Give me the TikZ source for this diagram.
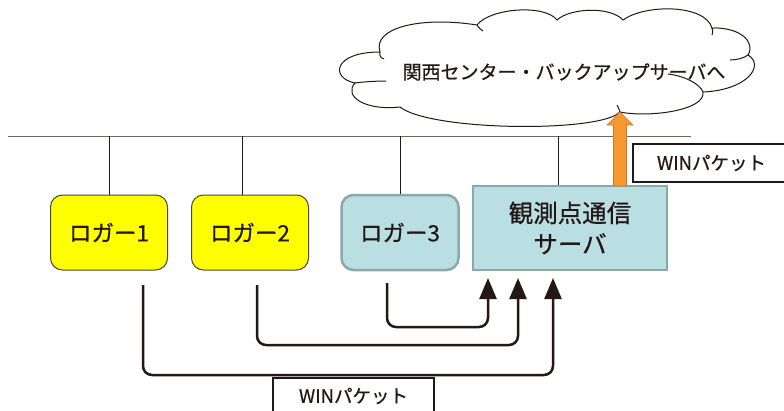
\documentclass[tikz,border=0pt]{standalone}
\usepackage{fontspec}
\newfontfamily\jp[FakeBold=0.6]{Noto Sans CJK JP}
\usetikzlibrary{arrows.meta}
\definecolor{ylw}{HTML}{FFFF00}
\definecolor{ylwborder}{HTML}{4D4540}
\definecolor{bluefill}{HTML}{BADFE3}
\definecolor{blueborder}{HTML}{8BA9AC}
\definecolor{darkline}{HTML}{231815}
\definecolor{orng}{HTML}{F7972F}
\definecolor{orngborder}{HTML}{D27A2A}
\definecolor{busgray}{HTML}{6A6663}
\tikzset{
  logger/.style={rounded corners=12pt, minimum width=117pt, minimum height=75pt, font=\jp\fontsize{22.5}{26}\selectfont, text=darkline},
  yellowbox/.style={logger, fill=ylw, draw=ylwborder, line width=1pt},
  bluebox/.style={logger, fill=bluefill, draw=blueborder, line width=2.5pt},
  serverbox/.style={fill=bluefill, draw=blueborder, line width=2.5pt, minimum width=194pt, minimum height=84pt, align=center, font=\jp\fontsize{24.5}{31}\selectfont, text=darkline},
  tap/.style={draw=darkline, line width=0.8pt},
  bus/.style={draw=busgray, line width=1pt},
  flow/.style={draw=darkline, line width=2.5pt, rounded corners=9pt, -{Triangle[width=17pt,length=21pt]}},
  labelbox/.style={draw=darkline, line width=2pt, fill=white, font=\jp\fontsize{18.5}{22}\selectfont, text=darkline, inner sep=0pt},
  cloudline/.style={draw=darkline, line width=1pt, fill=white},
}
\begin{document}
\begin{tikzpicture}[x=1pt,y=-1pt]
\useasboundingbox (0,0) rectangle (784,410);
\clip (0,0) rectangle (784,410);
\fill[white] (0,0) rectangle (784,410);

% cloud
\path[cloudline] (380,52)
  .. controls (372,28) and (420,16) .. (477,25)
  .. controls (490,8) and (545,4) .. (557,20)
  .. controls (570,8) and (610,6) .. (623,20)
  .. controls (645,4) and (705,4) .. (712,28)
  .. controls (740,27) and (756,42) .. (748,55)
  .. controls (765,65) and (748,90) .. (703,92)
  .. controls (706,110) and (650,118) .. (620,112)
  .. controls (600,133) and (430,131) .. (400,107)
  .. controls (365,111) and (343,96) .. (355,83)
  .. controls (330,78) and (333,52) .. (380,52) -- cycle;
\draw[darkline, line width=1pt] (380,52) .. controls (379,56) and (381,58) .. (384,59);
\draw[darkline, line width=1pt] (355,83) .. controls (362,82) and (375,81) .. (386,81);
\draw[darkline, line width=1pt] (748,55) .. controls (744,58) and (737,60) .. (730,60);
\draw[darkline, line width=1pt] (703,92) .. controls (700,84) and (685,76) .. (668,74);
\draw[darkline, line width=1pt] (477,25) .. controls (479,28) and (481,30) .. (483,31);
\draw[darkline, line width=1pt] (712,28) .. controls (713,31) and (713,33) .. (712,35);
\draw[darkline, line width=1pt] (620,112) .. controls (619,109) and (618,107) .. (617,105);
\node[font=\jp\fontsize{19}{22}\selectfont, text=darkline] (cloudtext) at (564,72) {関西センター・バックアップサーバへ};

% bus
\coordinate (busL) at (8,136);
\coordinate (busR) at (691,136);
\draw[bus] (busL) -- (busR);

% nodes
\node[yellowbox] (l1) at (109,232.5) {ロガー1};
\node[yellowbox] (l2) at (250,232.5) {ロガー2};
\node[bluebox] (l3) at (400,232.5) {ロガー3};
\node[serverbox] (srv) at (570,228) {観測点通信\\サーバ};

% taps
\coordinate (t1) at (109,136);
\coordinate (t2) at (242,136);
\coordinate (t3) at (400,136);
\coordinate (t4) at (558,136);
\draw[tap] (t1) -- (t1 |- l1.north);
\draw[tap] (t2) -- (t2 |- l2.north);
\draw[tap] (t3) -- (t3 |- l3.north);
\draw[tap] (t4) -- (t4 |- srv.north);

% orange arrow to cloud
\coordinate (otip) at (620,112);
\filldraw[fill=orng, draw=orngborder, line width=0.6pt]
  (613.5,186) -- (613.5,125) -- (607,125) -- (otip) -- (633,125) -- (626.5,125) -- (626.5,186) -- cycle;

% top label
\node[labelbox, minimum width=157pt, minimum height=38pt] (winTop) at (711.5,163) {WINパケット};

% bottom flows
\coordinate (s1) at (143,285);
\coordinate (s2) at (257,285);
\coordinate (s3) at (387,283);
\coordinate (a1) at (553,278);
\coordinate (a2) at (518,278);
\coordinate (a3) at (488,278);
\draw[flow] (s3) |- (488,327) -- (a3);
\draw[flow] (s2) |- (518,345) -- (a2);
\draw[flow] (s1) |- (553,375) -- (a1);

% bottom label
\node[labelbox, minimum width=161pt, minimum height=36pt] (winBot) at (353.5,396) {WINパケット};
\end{tikzpicture}
\end{document}
